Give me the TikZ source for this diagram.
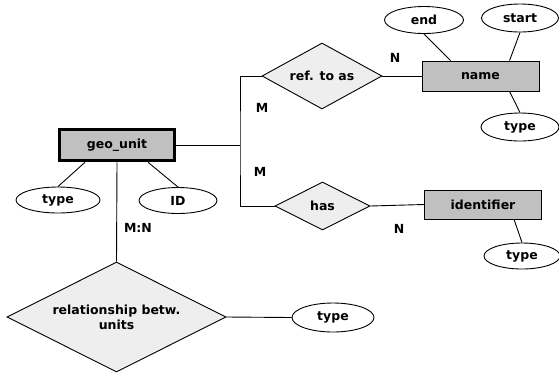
\documentclass[tikz,border=0pt]{standalone}
\usepackage{fontspec}
\setmainfont{DejaVu Sans}
\usetikzlibrary{shapes.geometric,calc}
\definecolor{entgray}{HTML}{C0C0C0}
\definecolor{relgray}{HTML}{EEEEEE}
\tikzset{
  entity/.style={draw, fill=entgray, line width=0.9pt, rectangle, inner sep=0pt},
  attr/.style={draw, ellipse, fill=white, line width=0.9pt, inner sep=0pt},
  rel/.style={draw, diamond, aspect=2, fill=relgray, line width=0.9pt, inner sep=0pt},
  conn/.style={line width=0.9pt},
  card/.style={inner sep=0pt}
}
\begin{document}
\begin{tikzpicture}[x=1pt,y=-1pt,font=\bfseries\fontsize{12.5}{15}\selectfont]
\useasboundingbox (0,0) rectangle (559,373);
% entities
\node[entity, line width=3.5pt, minimum width=115pt, minimum height=31pt] (geo) at (117,145) {geo\_unit};
\node[entity, minimum width=117pt, minimum height=30pt] (name) at (480.5,76) {name};
\node[entity, minimum width=117pt, minimum height=29pt] (ident) at (483,204.5) {identifier};
% relationships
\node[rel, minimum width=120pt, minimum height=66pt] (ref) at (322,76) {ref. to as};
\node[rel, minimum width=95pt, minimum height=48pt] (has) at (322.5,206) {has};
\node[rel, minimum width=219pt, minimum height=110pt, align=center] (relb) at (116.5,317) {relationship betw.\\units};
% attributes
\node[attr, minimum width=84pt, minimum height=26pt] (gtype) at (58,200) {type};
\node[attr, minimum width=78pt, minimum height=26pt] (gid) at (178,200.5) {ID};
\node[attr, minimum width=79pt, minimum height=27pt] (nend) at (424,20) {end};
\node[attr, minimum width=77pt, minimum height=28pt] (nstart) at (520,18) {start};
\node[attr, minimum width=78pt, minimum height=28pt] (ntype) at (520,127) {type};
\node[attr, minimum width=76pt, minimum height=26pt] (itype) at (522,256) {type};
\node[attr, minimum width=82pt, minimum height=29pt] (rtype) at (333,317.5) {type};
% connectors
\coordinate (j) at (240,145);
\draw[conn] (geo.east) -- (j);
\draw[conn] (ref.west) -| (j) |- (has.west);
\draw[conn] (ref.east) -- (name.west);
\draw[conn] (has.east) -- (ident.west);
\draw[conn] ($(geo.south)+(-32,0)$) -- (gtype.north);
\draw[conn] ($(geo.south)+(31,0)$) -- (gid.north);
\draw[conn] (geo.south) -- (relb.north);
\draw[conn] (relb.east) -- (rtype.west);
\draw[conn] ($(name.north west)+(29,0)$) -- (nend.south);
\draw[conn] ($(name.north west)+(88,0)$) -- (nstart.south);
\draw[conn] ($(name.south west)+(88,0)$) -- (ntype.north);
\draw[conn] ($(ident.south west)+(90,0)$) -- (itype.north);
% cardinalities
\node[card] (c1) at (395,58) {N};
\node[card] (c2) at (262,108) {M};
\node[card] (c3) at (260,172) {M};
\node[card] (c4) at (399,229) {N};
\node[card] (c5) at (138,228) {M:N};
\end{tikzpicture}
\end{document}
